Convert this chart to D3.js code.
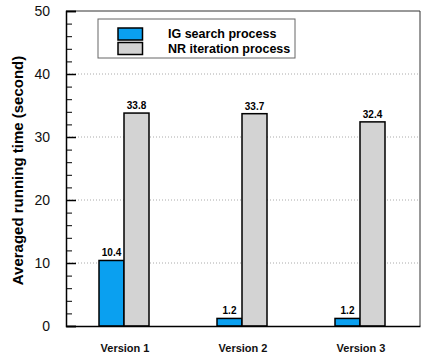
<!DOCTYPE html>
<html>
<head>
<meta charset="utf-8">
<script src="https://cdn.jsdelivr.net/npm/d3@7"></script>
<style>
  body { margin: 0; background: #fff; }
  text { font-family: Arial, "Liberation Sans", sans-serif; }
</style>
</head>
<body>
<svg width="433" height="358"></svg>
<script>
let versions = ["Version 1", "Version 2", "Version 3"];
let seriesNames = ["IG search process", "NR iteration process"];
let igSearch = [10.4, 1.2, 1.2];
let nrIteration = [33.8, 33.7, 32.4];
let majorTicks = [0, 10, 20, 30, 40, 50];
let colors = ["#0aa0f0", "#d3d3d3"];

let svg = d3.select("svg"),
    margin = { top: 11, right: 13, bottom: 32, left: 66 },
    width = 433 - margin.left - margin.right,
    height = 358 - margin.top - margin.bottom;

let g = svg.append("g")
    .attr("transform", "translate(" + [margin.left, margin.top] + ")");

let x = d3.scaleBand()
    .domain(versions)
    .range([0, width]);

let y = d3.scaleLinear()
    .domain([0, 50])
    .range([height, 0]);

let barWidth = 25;

// grid lines
g.selectAll(".grid")
    .data(majorTicks.filter(d => d > 0 && d < 50))
    .enter().append("line")
    .attr("x1", 0)
    .attr("x2", width)
    .attr("y1", d => y(d))
    .attr("y2", d => y(d))
    .attr("stroke", "#aaa")
    .attr("stroke-width", 1)
    .attr("stroke-dasharray", "1,2");

// bars
let rows = versions.map((v, i) => ({ v: v, vals: [igSearch[i], nrIteration[i]] }));

let groups = g.selectAll(".grp")
    .data(rows)
    .enter().append("g")
    .attr("transform", d => "translate(" + (x(d.v) + x.bandwidth() / 2 - 1) + ",0)");

groups.selectAll("rect")
    .data(d => d.vals)
    .enter().append("rect")
    .attr("x", (d, i) => i === 0 ? -barWidth : 0)
    .attr("y", d => y(d))
    .attr("width", barWidth)
    .attr("height", d => y(0) - y(d))
    .attr("fill", (d, i) => colors[i])
    .attr("stroke", "#000")
    .attr("stroke-width", 1.5);

groups.selectAll(".val")
    .data(d => d.vals)
    .enter().append("text")
    .attr("x", (d, i) => i === 0 ? -barWidth / 2 : barWidth / 2)
    .attr("y", d => y(d) - 4)
    .attr("text-anchor", "middle")
    .attr("font-size", "10px")
    .attr("font-weight", "bold")
    .text(d => d.toFixed(1));

// frame
g.append("line").attr("x1", 0).attr("x2", width).attr("y1", 0).attr("y2", 0)
    .attr("stroke", "#333").attr("stroke-width", 1);
g.append("line").attr("x1", width).attr("x2", width).attr("y1", 0).attr("y2", height)
    .attr("stroke", "#333").attr("stroke-width", 1);

// left axis: major + minor ticks pointing inward
let yAxis = d3.axisLeft(y)
    .tickValues(majorTicks)
    .tickSize(-10)
    .tickPadding(16)
    .tickFormat(d3.format("d"));

let gy = g.append("g").call(yAxis);
gy.select(".domain").attr("stroke-width", 1.5);
gy.selectAll(".tick line").attr("stroke-width", 1.5);
gy.selectAll(".tick text")
    .attr("font-size", "14px")
    .attr("font-family", "Arial, 'Liberation Sans', sans-serif")
    .attr("fill", "#111");

let gyMinor = g.append("g").call(
    d3.axisLeft(y)
        .tickValues(d3.range(0, 51, 2).filter(d => d % 10 !== 0))
        .tickSize(-6)
        .tickFormat(""));
gyMinor.select(".domain").remove();

// bottom axis
let gx = g.append("g")
    .attr("transform", "translate(0," + height + ")")
    .call(d3.axisBottom(x).tickSize(0).tickPadding(18));
gx.select(".domain").attr("stroke-width", 1.5);
gx.selectAll(".tick text")
    .attr("font-size", "11px")
    .attr("font-weight", "bold")
    .attr("font-family", "Arial, 'Liberation Sans', sans-serif")
    .attr("fill", "#111");

// y label
svg.append("text")
    .attr("transform", "translate(23," + (margin.top + height / 2 + 2) + ") rotate(-90)")
    .attr("text-anchor", "middle")
    .attr("font-size", "15px")
    .attr("font-weight", "bold")
    .text("Averaged running time (second)");

// legend
let legend = svg.append("g").attr("transform", "translate(98,19)");
legend.append("rect")
    .attr("width", 197).attr("height", 39)
    .attr("fill", "#fff").attr("stroke", "#666").attr("stroke-width", 1);

let items = legend.selectAll(".item")
    .data(seriesNames)
    .enter().append("g")
    .attr("transform", (d, i) => "translate(20," + (9 + i * 14.5) + ")");

items.append("rect")
    .attr("width", 24.5).attr("height", 12)
    .attr("fill", (d, i) => colors[i])
    .attr("stroke", "#000").attr("stroke-width", 1.5);

items.append("text")
    .attr("x", 50)
    .attr("y", 10)
    .attr("font-size", "12.5px")
    .attr("font-weight", "bold")
    .text(d => d);
</script>
</body>
</html>
